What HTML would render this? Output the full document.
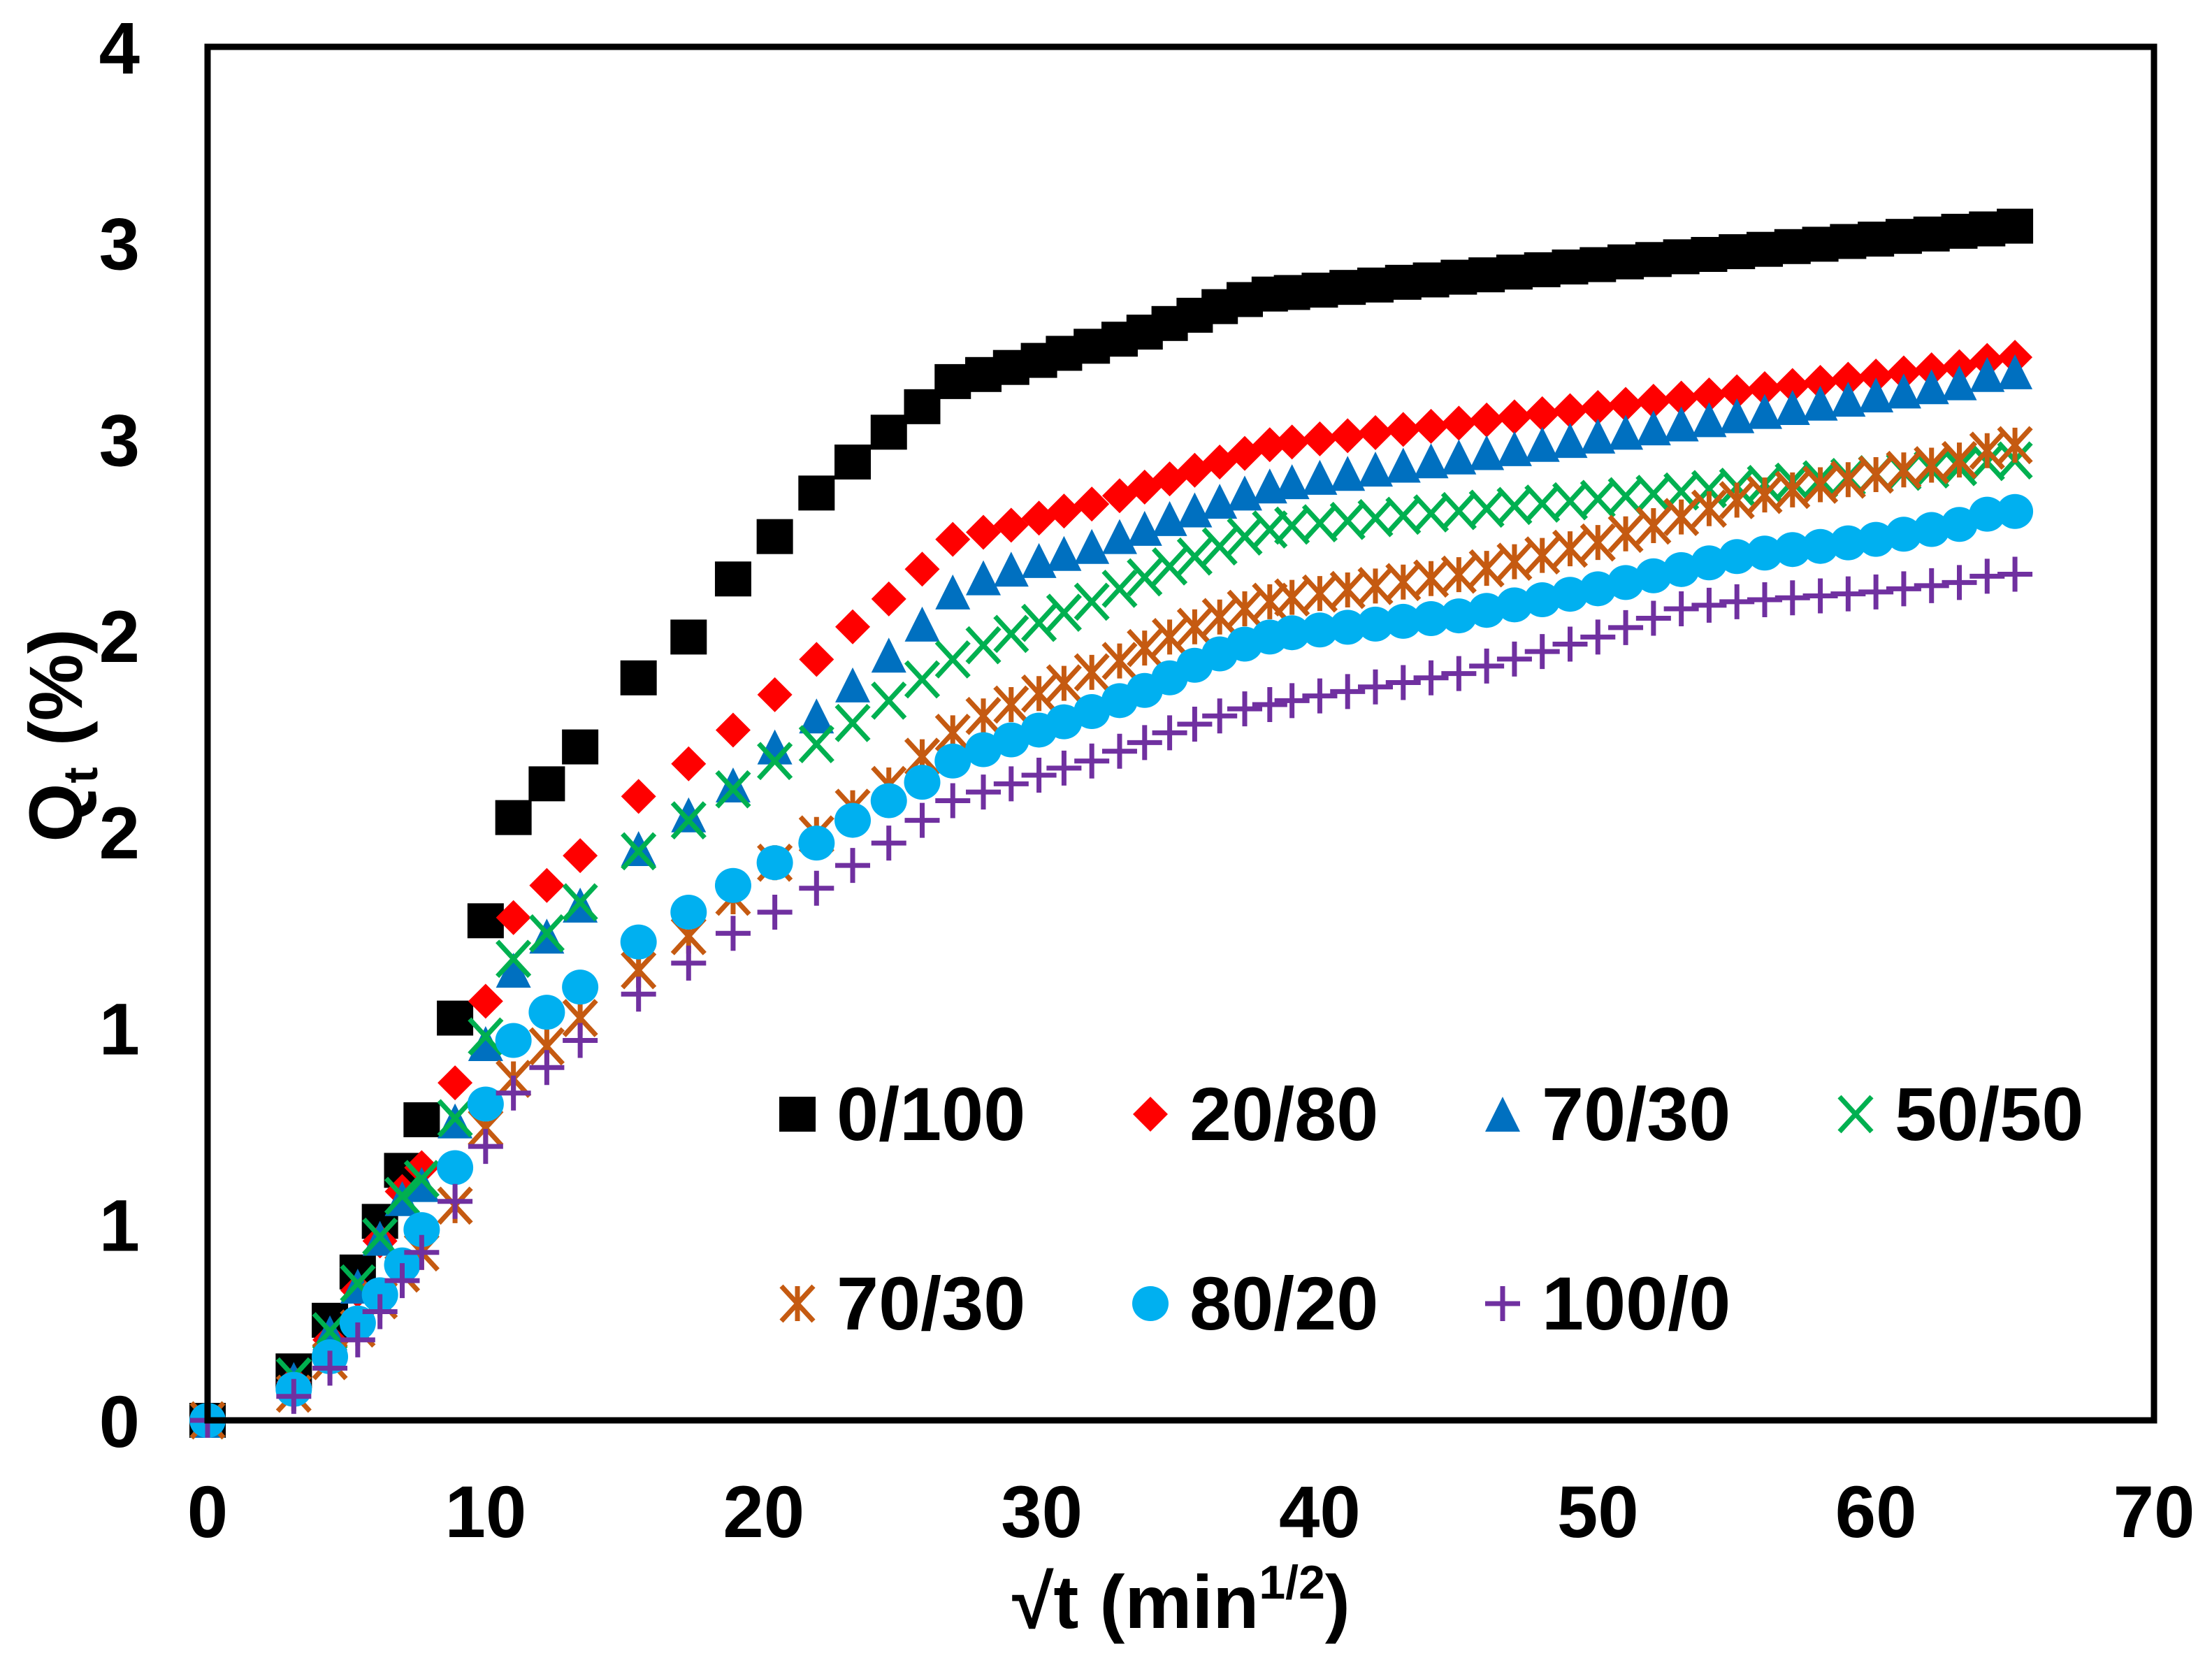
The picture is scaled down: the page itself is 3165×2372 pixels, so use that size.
<!DOCTYPE html>
<html><head><meta charset="utf-8"><style>
html,body{margin:0;padding:0;background:#fff;}
svg{display:block;}
text{font-family:"Liberation Sans",Arial,sans-serif;font-weight:bold;fill:#000;}
</style></head><body>
<svg id="chart" width="3165" height="2372" viewBox="0 0 3165 2372" xmlns="http://www.w3.org/2000/svg">
<rect x="0" y="0" width="3165" height="2372" fill="#fff"/>
<g id="marks"></g>
<rect x="297" y="67" width="2785" height="1965" fill="none" stroke="#000" stroke-width="9"/>
<g id="xticks"></g>
<g id="yticks"></g>
<text x="1690" y="2329" font-size="108" text-anchor="middle">√t (min<tspan font-size="68" dy="-42">1/2</tspan><tspan dy="42">)</tspan></text>
<text transform="translate(117,1052) rotate(-90)" font-size="108" text-anchor="middle">Q<tspan font-size="70" dy="22">t</tspan><tspan dy="-22"> (%)</tspan></text>
<g id="legend"></g>
</svg>
<script>
const NS='http://www.w3.org/2000/svg';
const xs=[0,3.1,4.4,5.4,6.2,7.0,7.7,8.9,10,11,12.2,13.4,15.5,17.3,18.9,20.4,21.9,23.2,24.5,25.7,26.8,27.9,28.9,29.9,30.8,31.8,32.8,33.7,34.6,35.5,36.4,37.3,38.2,39,40,41,42,43,44,45,46,47,48,49,50,51,52,53,54,55,56,57,58,59,60,61,62,63,64,65,65.6];
const seriesNames=['0/100','20/80','70/30','50/50','70/30','80/20','100/0'];
const s0=[0,0.126,0.255,0.378,0.507,0.637,0.766,1.025,1.273,1.536,1.622,1.716,1.892,1.996,2.144,2.252,2.363,2.442,2.518,2.583,2.647,2.665,2.683,2.701,2.719,2.737,2.755,2.773,2.795,2.816,2.838,2.856,2.870,2.874,2.880,2.887,2.893,2.900,2.906,2.913,2.919,2.926,2.932,2.939,2.945,2.952,2.958,2.965,2.971,2.978,2.984,2.991,2.997,3.004,3.010,3.017,3.023,3.030,3.036,3.043];
const s1=[0,0.097,0.205,0.331,0.457,0.583,0.644,0.860,1.068,1.281,1.363,1.439,1.590,1.673,1.759,1.849,1.939,2.022,2.093,2.169,2.245,2.263,2.281,2.299,2.317,2.335,2.356,2.378,2.399,2.421,2.442,2.464,2.486,2.493,2.501,2.509,2.517,2.525,2.533,2.541,2.549,2.557,2.565,2.573,2.581,2.589,2.597,2.605,2.613,2.621,2.629,2.637,2.645,2.653,2.661,2.669,2.677,2.685,2.701,2.709];
const s2=[0,0.104,0.223,0.342,0.464,0.565,0.601,0.763,0.960,1.147,1.234,1.313,1.457,1.543,1.619,1.716,1.795,1.874,1.950,2.029,2.111,2.147,2.169,2.191,2.209,2.227,2.252,2.273,2.298,2.320,2.342,2.363,2.381,2.392,2.403,2.413,2.424,2.434,2.445,2.455,2.466,2.476,2.487,2.497,2.508,2.518,2.529,2.539,2.550,2.560,2.571,2.581,2.592,2.602,2.613,2.623,2.634,2.644,2.665,2.672];
const s3=[0,0.112,0.227,0.349,0.468,0.572,0.615,0.770,0.978,1.176,1.241,1.320,1.450,1.529,1.608,1.680,1.723,1.777,1.834,1.888,1.939,1.975,2.004,2.032,2.058,2.086,2.119,2.148,2.176,2.201,2.227,2.252,2.270,2.280,2.286,2.292,2.299,2.305,2.311,2.317,2.323,2.330,2.336,2.342,2.348,2.355,2.361,2.367,2.373,2.379,2.386,2.392,2.398,2.404,2.411,2.417,2.423,2.429,2.442,2.446];
const s4=[0,0.068,0.151,0.234,0.306,0.374,0.428,0.547,0.745,0.870,0.953,1.025,1.147,1.234,1.334,1.421,1.493,1.561,1.619,1.691,1.752,1.795,1.824,1.852,1.878,1.906,1.935,1.968,1.996,2.022,2.047,2.068,2.086,2.097,2.107,2.116,2.126,2.136,2.145,2.155,2.171,2.188,2.204,2.221,2.237,2.259,2.280,2.302,2.323,2.345,2.358,2.371,2.384,2.397,2.410,2.422,2.434,2.447,2.471,2.485];
const s5=[0,0.079,0.162,0.248,0.320,0.396,0.486,0.644,0.806,0.968,1.040,1.104,1.219,1.295,1.363,1.421,1.471,1.529,1.579,1.626,1.680,1.709,1.734,1.759,1.780,1.806,1.834,1.860,1.892,1.924,1.953,1.978,1.996,2.007,2.014,2.021,2.029,2.036,2.043,2.050,2.064,2.078,2.091,2.105,2.119,2.135,2.152,2.168,2.185,2.201,2.210,2.219,2.227,2.236,2.245,2.258,2.270,2.283,2.309,2.316];
const s6=[0,0.061,0.133,0.205,0.277,0.356,0.428,0.558,0.698,0.834,0.899,0.968,1.086,1.165,1.241,1.295,1.356,1.414,1.471,1.529,1.579,1.601,1.622,1.644,1.662,1.680,1.705,1.727,1.752,1.774,1.795,1.813,1.824,1.834,1.846,1.857,1.869,1.880,1.892,1.903,1.922,1.940,1.959,1.978,1.996,2.020,2.044,2.068,2.077,2.086,2.091,2.096,2.101,2.106,2.111,2.119,2.127,2.135,2.151,2.156];
const xTickVals=[0,10,20,30,40,50,60,70];
const yTickVals=[0,0.5,1,1.5,2,2.5,3,3.5];
const yTickLabels=['0','1','1','2','2','3','3','4'];

const X0=297,X1=3082,Y0=2032,Y1=67;
const sx=v=>X0+(v-0)/(70-0)*(X1-X0);
const sy=v=>Y0-(v-0)/(3.5-0)*(Y0-Y1);

function mk(tag,attrs,parent){const e=document.createElementNS(NS,tag);for(const k in attrs)e.setAttribute(k,attrs[k]);parent.appendChild(e);return e;}

function marker(type,cx,cy,parent,name){
  const g=mk('g',{},parent);
  
  
  const h=25;
  if(type==='square'){mk('rect',{x:cx-26,y:cy-25,width:52,height:50,fill:'#000'},g);}
  else if(type==='diamond'){mk('polygon',{points:`${cx},${cy-h} ${cx+h},${cy} ${cx},${cy+h} ${cx-h},${cy}`,fill:'#FF0000'},g);}
  else if(type==='triangle'){mk('polygon',{points:`${cx},${cy-h} ${cx+h},${cy+h} ${cx-h},${cy+h}`,fill:'#0070C0'},g);}
  else if(type==='x'){mk('path',{d:`M${cx-23},${cy-25}L${cx+23},${cy+25}M${cx+23},${cy-25}L${cx-23},${cy+25}`,stroke:'#00B050','stroke-width':7,fill:'none'},g);}
  else if(type==='star'){mk('path',{d:`M${cx-23},${cy-25}L${cx+23},${cy+25}M${cx+23},${cy-25}L${cx-23},${cy+25}M${cx},${cy-25}L${cx},${cy+25}`,stroke:'#C55A11','stroke-width':7,fill:'none'},g);}
  else if(type==='circle'){mk('ellipse',{cx:cx,cy:cy,rx:26,ry:25,fill:'#00B0F0'},g);}
  else if(type==='plus'){mk('path',{d:`M${cx-25},${cy}L${cx+25},${cy}M${cx},${cy-25}L${cx},${cy+25}`,stroke:'#7030A0','stroke-width':7,fill:'none'},g);}
  return g;
}

const types=['square','diamond','triangle','x','star','circle','plus'];
const allSeries=[s0,s1,s2,s3,s4,s5,s6];
const marks=document.getElementById('marks');
allSeries.forEach((arr,si)=>{
  const g=mk('g',{},marks);
  
  
  arr.forEach((v,i)=>{ marker(types[si],sx(xs[i]),sy(v),g,'point'); });
});

const xt=document.getElementById('xticks');
xTickVals.forEach(v=>{
  const t=mk('text',{x:sx(v),y:2199,'font-size':105,'text-anchor':'middle'},xt);
  
  
  t.textContent=String(v);
});
const yt=document.getElementById('yticks');
yTickVals.forEach((v,i)=>{
  const t=mk('text',{x:200,y:sy(v)+38,'font-size':105,'text-anchor':'end'},yt);
  
  
  t.textContent=yTickLabels[i];
});

const lg=document.getElementById('legend');
const legPos=[[1141,1594],[1646,1594],[2150,1594],[2655,1594],[1141,1865],[1646,1865],[2150,1865]];
seriesNames.forEach((n,i)=>{
  const g=mk('g',{},lg);
  
  
  const [cx,cy]=legPos[i];
  marker(types[i],cx,cy,g,'legend-marker');
  const t=mk('text',{x:cx+56,y:cy+37,'font-size':108},g);
  
  
  t.textContent=n;
});
</script>
</body></html>
